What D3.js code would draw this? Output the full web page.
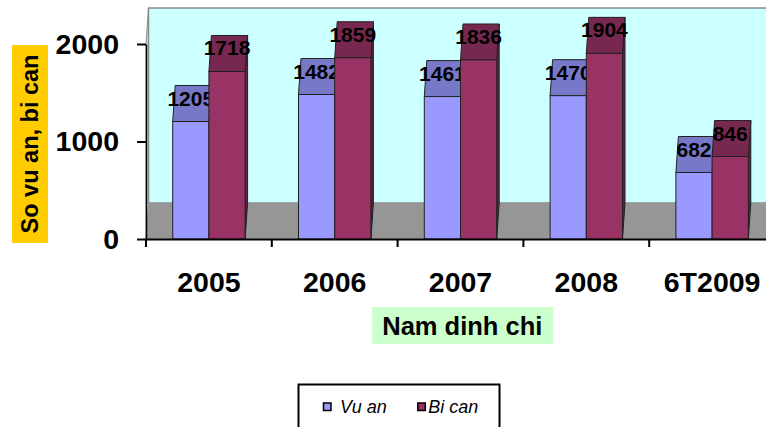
<!DOCTYPE html>
<html>
<head>
<meta charset="utf-8">
<script src="https://cdn.jsdelivr.net/npm/d3@7"></script>
<style>
  html, body { margin: 0; padding: 0; background: #ffffff; }
  svg { display: block; font-family: "Liberation Sans", Arial, sans-serif; }
</style>
</head>
<body>
<svg id="chart" width="766" height="427"></svg>
<script>
// Case counts per year of closing (cases vs. defendants)
const categories = ["2005", "2006", "2007", "2008", "6T2009"];
const seriesNames = ["Vu an", "Bi can"];
const vuAn = [1205, 1482, 1461, 1470, 682];
const biCan = [1718, 1859, 1836, 1904, 846];
const yTicks = [0, 1000, 2000];

const seriesColors = {
  "Vu an":  { front: "#9999FF", top: "#7878C8", side: "#6464A8" },
  "Bi can": { front: "#993366", top: "#772850", side: "#5E1F40" }
};

const svg = d3.select("#chart");

// plot geometry (front plane) and oblique depth of the 3D box
const left = 146, right = 775, base = 239;
const depth = { dx: 2.5, dy: -36 };

const y = d3.scaleLinear().domain([0, 2000]).range([base, 44]);
const x0 = d3.scaleBand().domain(categories).range([left, right]);
const x1 = d3.scaleBand().domain(seriesNames).range([0, x0.bandwidth()])
  .paddingInner(0).paddingOuter(0.7375);

const yTop = y(2000);

// side wall
svg.append("path")
  .attr("d", `M${left},${yTop} L${left + depth.dx},${yTop + depth.dy} L${left + depth.dx},${base + depth.dy} L${left},${base} Z`)
  .attr("fill", "#BFEFEF").attr("stroke", "#8A8A8A").attr("stroke-width", 1);

// back wall
svg.append("rect")
  .attr("x", left + depth.dx).attr("y", yTop + depth.dy)
  .attr("width", 800).attr("height", base - yTop)
  .attr("fill", "#CCFFFF").attr("stroke", "#8A8A8A").attr("stroke-width", 1.5);

// floor
svg.append("path")
  .attr("d", `M${left},${base} L${left + depth.dx},${base + depth.dy} L800,${base + depth.dy} L800,${base} Z`)
  .attr("fill", "#969696");

// bars
const rows = categories.map((c, i) => ({ cat: c, values: [
  { key: "Vu an", value: vuAn[i] },
  { key: "Bi can", value: biCan[i] }
]}));

const groups = svg.append("g").selectAll("g").data(rows).join("g")
  .attr("transform", d => `translate(${x0(d.cat)},0)`);

const bars = groups.selectAll("g.bar").data(d => d.values).join("g").attr("class", "bar");

bars.each(function(d) {
  const g = d3.select(this);
  const xa = x1(d.key), xb = xa + x1.bandwidth();
  const yv = y(d.value);
  const col = seriesColors[d.key];
  const stroke = "#222222";
  // right side face
  g.append("path")
    .attr("d", `M${xb},${yv} L${xb + depth.dx},${yv + depth.dy} L${xb + depth.dx},${base + depth.dy} L${xb},${base} Z`)
    .attr("fill", col.side).attr("stroke", stroke).attr("stroke-width", 1).attr("stroke-linejoin", "round");
  // top face
  g.append("path")
    .attr("d", `M${xa},${yv} L${xb},${yv} L${xb + depth.dx},${yv + depth.dy} L${xa + depth.dx},${yv + depth.dy} Z`)
    .attr("fill", col.top).attr("stroke", stroke).attr("stroke-width", 1).attr("stroke-linejoin", "round");
  // front face
  g.append("rect")
    .attr("x", xa).attr("y", yv).attr("width", xb - xa).attr("height", base - yv)
    .attr("fill", col.front).attr("stroke", stroke).attr("stroke-width", 1);
});

// value labels
bars.append("text")
  .attr("x", d => x1(d.key) + x1.bandwidth() / 2)
  .attr("y", d => y(d.value) - 23.5)
  .attr("text-anchor", "middle")
  .attr("dominant-baseline", "central")
  .attr("font-size", 21).attr("font-weight", "bold").attr("fill", "#000")
  .text(d => d.value);

// y axis
const yAxis = svg.append("g")
  .attr("transform", `translate(${left},0)`)
  .call(d3.axisLeft(y).tickValues(yTicks).tickSize(9).tickSizeOuter(0).tickPadding(18).tickFormat(d3.format("d")));
yAxis.select(".domain").attr("stroke", "#000").attr("stroke-width", 1.5);
yAxis.selectAll(".tick line").attr("stroke", "#000").attr("stroke-width", 2);
yAxis.selectAll(".tick text")
  .attr("font-size", 28.5).attr("font-weight", "bold").attr("fill", "#000")
  .attr("font-family", "'Liberation Sans', Arial, sans-serif");

// x axis line and category boundary ticks
svg.append("line")
  .attr("x1", left).attr("x2", 800).attr("y1", base + 0.5).attr("y2", base + 0.5)
  .attr("stroke", "#000").attr("stroke-width", 2);
svg.append("g").selectAll("line").data(categories).join("line")
  .attr("x1", d => x0(d)).attr("x2", d => x0(d))
  .attr("y1", base).attr("y2", base + 8)
  .attr("stroke", "#000").attr("stroke-width", 2);

const xAxis = svg.append("g")
  .attr("transform", `translate(0,${base})`)
  .call(d3.axisBottom(x0).tickSize(0).tickPadding(33));
xAxis.select(".domain").remove();
xAxis.selectAll(".tick text")
  .attr("font-size", 28.5).attr("font-weight", "bold").attr("fill", "#000")
  .attr("font-family", "'Liberation Sans', Arial, sans-serif");

// y axis title
svg.append("rect").attr("x", 12).attr("y", 45).attr("width", 36).attr("height", 198).attr("fill", "#FFCC00");
svg.append("text")
  .attr("transform", "translate(30,144) rotate(-90)")
  .attr("text-anchor", "middle").attr("dominant-baseline", "central")
  .attr("font-size", 23.5).attr("font-weight", "bold").attr("fill", "#000")
  .text("So vu an, bi can");

// x axis title
svg.append("rect").attr("x", 372).attr("y", 307).attr("width", 181).attr("height", 37).attr("fill", "#CCFFCC");
svg.append("text")
  .attr("x", 462.3).attr("y", 335)
  .attr("text-anchor", "middle")
  .attr("font-size", 25.5).attr("font-weight", "bold").attr("fill", "#000")
  .text("Nam dinh chi");

// legend
const legend = svg.append("g");
legend.append("rect").attr("x", 298.5).attr("y", 384.5).attr("width", 201).attr("height", 70)
  .attr("fill", "#fff").attr("stroke", "#000").attr("stroke-width", 2);
const legendPos = [{ sx: 323.5, tx: 340 }, { sx: 417.8, tx: 428.3 }];
const items = legend.selectAll("g.item").data(seriesNames).join("g").attr("class", "item");
items.append("rect")
  .attr("x", (d, i) => legendPos[i].sx).attr("y", 403)
  .attr("width", 7.5).attr("height", 7.5)
  .attr("fill", d => seriesColors[d].front).attr("stroke", "#000").attr("stroke-width", 1.5);
items.append("text")
  .attr("x", (d, i) => legendPos[i].tx).attr("y", 412.7)
  .attr("font-size", 18).attr("font-style", "italic").attr("fill", "#000")
  .text(d => d);
</script>
</body>
</html>
